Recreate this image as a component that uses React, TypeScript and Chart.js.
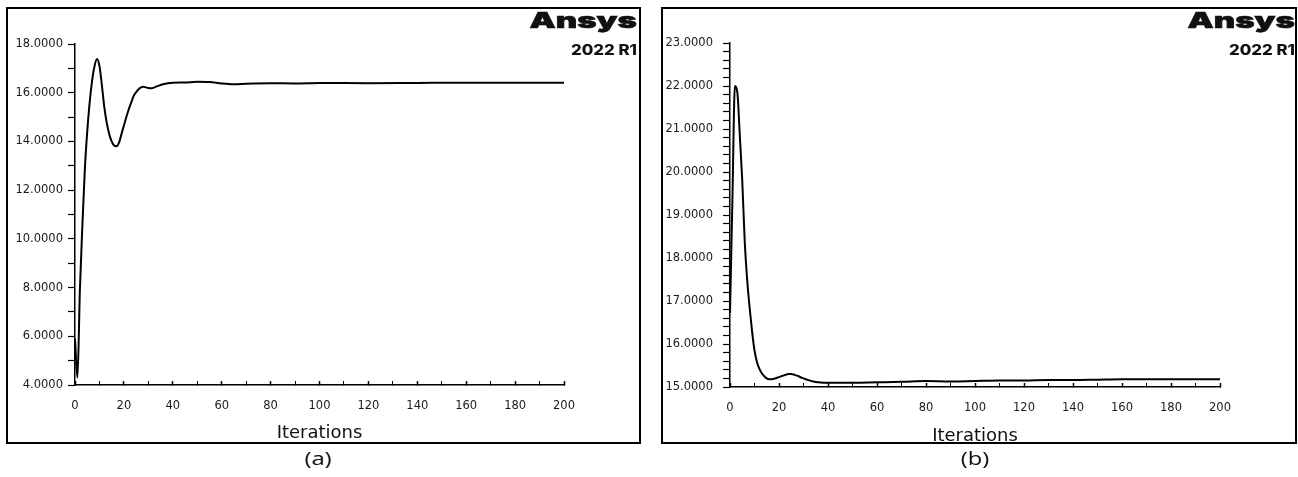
import React, { useEffect, useRef } from 'react';
import { Chart, registerables } from 'chart.js';

Chart.register(...registerables);

// ---- Data ----
const iterationsA = [0, 1, 2, 3, 4, 5, 6, 7, 8, 9, 10, 11, 12, 13, 14, 15, 16, 17, 18, 19, 20, 21, 22, 23, 24, 25, 26, 27, 28, 29, 30, 31, 32, 34, 36, 38, 40, 45, 50, 55, 60, 65, 70, 80, 90, 100, 120, 140, 160, 180, 200];
const valuesA = [5.9, 4.3, 7.9, 10.5, 12.8, 14.4, 15.6, 16.5, 17.1, 17.38, 17.1, 16.3, 15.4, 14.75, 14.3, 14.0, 13.83, 13.8, 13.95, 14.3, 14.65, 15.0, 15.32, 15.6, 15.87, 16.02, 16.14, 16.22, 16.25, 16.22, 16.19, 16.18, 16.2, 16.28, 16.35, 16.39, 16.41, 16.42, 16.45, 16.44, 16.38, 16.35, 16.37, 16.39, 16.38, 16.4, 16.39, 16.4, 16.41, 16.41, 16.41];

const iterationsB = [0, 1, 2, 3, 4, 5, 6, 7, 8, 9, 10, 11, 12, 13, 14, 15, 16, 17, 18, 19, 20, 21, 22, 23, 24, 25, 26, 27, 28, 29, 30, 32, 34, 36, 38, 40, 50, 60, 70, 80, 90, 100, 110, 120, 130, 140, 150, 160, 180, 200];
const valuesB = [16.72, 19.4, 22.0, 21.85, 20.85, 19.8, 18.4, 17.5, 16.85, 16.3, 15.85, 15.58, 15.42, 15.32, 15.25, 15.2, 15.18, 15.18, 15.19, 15.21, 15.23, 15.25, 15.27, 15.29, 15.3, 15.3, 15.29, 15.27, 15.25, 15.22, 15.2, 15.16, 15.13, 15.11, 15.1, 15.1, 15.1, 15.11, 15.12, 15.14, 15.13, 15.14, 15.15, 15.15, 15.16, 15.16, 15.17, 15.18, 15.18, 15.18];

const xTickLabels = [0, 20, 40, 60, 80, 100, 120, 140, 160, 180, 200];
const yTickLabelsA = [4, 6, 8, 10, 12, 14, 16, 18];
const yTickLabelsB = [15, 16, 17, 18, 19, 20, 21, 22, 23];

const axisTitle = 'Iterations';
const panelLabels = ['(a)', '(b)'];
const logoText = 'Ansys';
const logoVersion = '2022 R1';

const TICK_FONT = { family: 'DejaVu Sans', size: 11.5 };

type PanelProps = {
  iters: number[];
  values: number[];
  yLabels: number[];
  yStep: number;
  left: number;
  top: number;
  width: number;
  height: number;
  padRight: number;
  padTop: number;
  yAxisWidth: number;
  xAxisHeight: number;
  yLabelPad: number;
  titlePadBottom: number;
};

function Panel(p: PanelProps) {
  const ref = useRef<HTMLCanvasElement | null>(null);
  useEffect(() => {
    if (!ref.current) return;
    const xMin = xTickLabels[0];
    const xMax = xTickLabels[xTickLabels.length - 1];
    const yMin = p.yLabels[0];
    const yMax = p.yLabels[p.yLabels.length - 1];
    const chart = new Chart(ref.current, {
      type: 'line',
      data: {
        datasets: [
          {
            data: p.iters.map((x, i) => ({ x, y: p.values[i] })),
            borderColor: '#000',
            borderWidth: 2,
            pointRadius: 0,
            tension: 0.4,
            cubicInterpolationMode: 'monotone',
            fill: false,
          },
        ],
      },
      options: {
        animation: false,
        responsive: false,
        maintainAspectRatio: false,
        events: [],
        layout: { padding: { left: 0, right: p.padRight, top: p.padTop, bottom: 0 } },
        plugins: { legend: { display: false }, tooltip: { enabled: false }, title: { display: false } },
        scales: {
          x: {
            type: 'linear',
            min: xMin,
            max: xMax,
            afterFit: (s: any) => {
              s.height = p.xAxisHeight;
            },
            ticks: {
              stepSize: 10,
              autoSkip: false,
              maxRotation: 0,
              padding: 18,
              color: '#1a1a1a',
              font: TICK_FONT,
              callback: (v: any) => (xTickLabels.includes(Number(v)) ? String(v) : ''),
            },
            grid: {
              drawOnChartArea: false,
              drawTicks: true,
              tickLength: -4,
              tickColor: '#000',
              tickWidth: (ctx: any) => (ctx.tick && xTickLabels.includes(ctx.tick.value) ? 1.5 : 1),
            },
            border: { color: '#000', width: 1.5 },
            title: {
              display: true,
              text: axisTitle,
              color: '#111',
              font: { family: 'DejaVu Sans', size: 18, lineHeight: 1 },
              padding: { top: 0, bottom: p.titlePadBottom },
            },
          },
          y: {
            type: 'linear',
            min: yMin,
            max: yMax,
            afterFit: (s: any) => {
              s.width = p.yAxisWidth;
            },
            ticks: {
              stepSize: p.yStep,
              autoSkip: false,
              padding: p.yLabelPad,
              color: '#1a1a1a',
              font: TICK_FONT,
              callback: (v: any) => {
                const n = Number(v);
                const hit = p.yLabels.find((l) => Math.abs(l - n) < 1e-6);
                return hit !== undefined ? hit.toFixed(4) : '';
              },
            },
            grid: {
              drawOnChartArea: false,
              drawTicks: true,
              tickLength: 7,
              tickColor: '#000',
              tickWidth: 1.2,
            },
            border: { color: '#000', width: 1.5 },
          },
        },
      } as any,
    });
    return () => chart.destroy();
  }, []);
  return (
    <canvas
      ref={ref}
      width={p.width}
      height={p.height}
      style={{ position: 'absolute', left: p.left, top: p.top, width: p.width, height: p.height }}
    />
  );
}

function Logo({ right }: { right: number }) {
  return (
    <>
      <div
        style={{
          position: 'absolute',
          left: right - 300,
          width: 300,
          top: 9,
          textAlign: 'right',
          fontFamily: 'Inter, Lato, sans-serif',
          fontWeight: 900,
          fontSize: 22,
          lineHeight: '22px',
          color: '#111',
          transform: 'scaleX(1.5)',
          transformOrigin: 'right center',
          whiteSpace: 'nowrap',
          WebkitTextStroke: '0.6px #111',
        }}
      >
        {logoText}
      </div>
      <div
        style={{
          position: 'absolute',
          left: right - 300,
          width: 300,
          top: 43,
          textAlign: 'right',
          fontFamily: 'Inter, Lato, sans-serif',
          fontWeight: 800,
          fontSize: 14,
          lineHeight: '14px',
          color: '#111',
          transform: 'scaleX(1.2)',
          transformOrigin: 'right center',
          whiteSpace: 'nowrap',
        }}
      >
        {logoVersion}
      </div>
    </>
  );
}

function Caption({ cx, text }: { cx: number; text: string }) {
  return (
    <div
      style={{
        position: 'absolute',
        left: cx - 50,
        width: 100,
        top: 449,
        textAlign: 'center',
        fontFamily: 'Open Sans, sans-serif',
        fontSize: 19,
        lineHeight: '19px',
        color: '#111',
        transform: 'scaleX(1.25)',
        transformOrigin: 'center center',
      }}
    >
      {text}
    </div>
  );
}

export default function App() {
  return (
    <div style={{ position: 'absolute', left: 0, top: 0, width: 1298, height: 477, background: '#fff', overflow: 'hidden' }}>
      <Panel
        iters={iterationsA}
        values={valuesA}
        yLabels={yTickLabelsA}
        yStep={1}
        left={9}
        top={9}
        width={629}
        height={434}
        padRight={74}
        padTop={35}
        yAxisWidth={66}
        xAxisHeight={58}
        yLabelPad={5}
        titlePadBottom={0.5}
      />
      <Panel
        iters={iterationsB}
        values={valuesB}
        yLabels={yTickLabelsB}
        yStep={0.2}
        left={663}
        top={9}
        width={632}
        height={437}
        padRight={75}
        padTop={34}
        yAxisWidth={67}
        xAxisHeight={59}
        yLabelPad={10}
        titlePadBottom={1}
      />
      <div style={{ position: 'absolute', left: 6, top: 7, width: 635, height: 437, border: '2px solid #000', boxSizing: 'border-box', pointerEvents: 'none' }} />
      <div style={{ position: 'absolute', left: 661, top: 7, width: 636, height: 437, border: '2px solid #000', boxSizing: 'border-box', pointerEvents: 'none' }} />
      <Logo right={637} />
      <Logo right={1295} />
      <Caption cx={318} text={panelLabels[0]} />
      <Caption cx={975} text={panelLabels[1]} />
    </div>
  );
}
